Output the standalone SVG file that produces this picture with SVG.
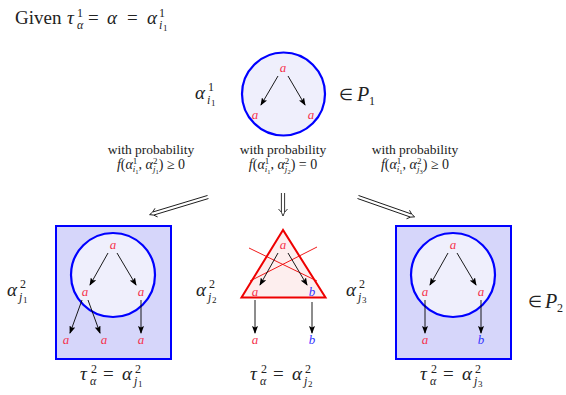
<svg xmlns="http://www.w3.org/2000/svg" width="566" height="395" viewBox="0 0 566 395">
<defs>
<style>
text{font-family:'Liberation Serif',serif;fill:#222;}
.i{font-style:italic;}
.ra{font-style:italic;font-size:13px;fill:#f5334d;text-anchor:middle;}
.bb{font-style:italic;font-size:13px;fill:#3333ff;text-anchor:middle;}
.pr{font-size:13.5px;text-anchor:middle;}
.pf{font-size:14px;text-anchor:middle;}
.ar{stroke:#000;stroke-width:0.9;fill:none;marker-end:url(#ah);}
.box{fill:#d6d6fa;stroke:#0000ff;stroke-width:2;}
.cir{fill:#efeffc;stroke:#0000ff;stroke-width:2.2;}
.dl{stroke:#000;stroke-width:0.8;fill:none;}
</style>
<marker id="ah" viewBox="0 0 8 6" refX="7" refY="3" markerWidth="8" markerHeight="6" markerUnits="userSpaceOnUse" orient="auto">
<path d="M0,0 L8,3 L0,6 L1.5,3 z" fill="#000"/>
</marker>
</defs>

<g id="title">
<text x="15" y="24" font-size="19">Given</text>
<text font-size="19" class="i" x="67" y="24">τ</text>
<text font-size="12" x="77" y="17">1</text>
<text font-size="12" class="i" x="77" y="29">α</text>
<text font-size="19" x="88" y="24">=</text>
<text font-size="19" class="i" x="107" y="24">α</text>
<text font-size="19" x="127" y="24">=</text>
<text font-size="19" class="i" x="147" y="24">α</text>
<text font-size="12" x="159" y="17">1</text>
<text font-size="12" class="i" x="159" y="29">i</text>
<text font-size="9" x="163" y="31">1</text>
</g>

<g id="top-node">
<circle class="cir" cx="283.5" cy="94" r="41.5"/>
<text class="ra" x="283" y="72">a</text>
<text class="ra" x="255" y="119">a</text>
<text class="ra" x="311" y="119">a</text>
<line class="ar" x1="278" y1="76" x2="261" y2="105"/>
<line class="ar" x1="288" y1="76" x2="305" y2="105"/>
<text font-size="19" class="i" x="195" y="99">α</text>
<text font-size="12" x="208" y="91">1</text>
<text font-size="12" class="i" x="207" y="104">i</text>
<text font-size="9" x="211" y="106">1</text>
<text font-size="16" x="339" y="100">∈</text>
<text font-size="20" class="i" x="357" y="101">P</text>
<text font-size="12" x="369" y="105">1</text>
</g>

<g id="labels">
<text class="pr" x="151" y="154">with probability</text>
<text class="pf" x="151" y="169"><tspan class="i">f</tspan>(<tspan class="i">α</tspan><tspan font-size="9" dy="-5">1</tspan><tspan class="i" font-size="9" dx="-4.5" dy="8">i</tspan><tspan font-size="6.5" dy="1.5">1</tspan><tspan dy="-4.5">, </tspan><tspan class="i">α</tspan><tspan font-size="9" dy="-5">2</tspan><tspan class="i" font-size="9" dx="-4.5" dy="8">j</tspan><tspan font-size="6.5" dy="1.5">1</tspan><tspan dy="-4.5">) ≥ 0</tspan></text>
<text class="pr" x="283" y="154">with probability</text>
<text class="pf" x="283" y="169"><tspan class="i">f</tspan>(<tspan class="i">α</tspan><tspan font-size="9" dy="-5">1</tspan><tspan class="i" font-size="9" dx="-4.5" dy="8">i</tspan><tspan font-size="6.5" dy="1.5">1</tspan><tspan dy="-4.5">, </tspan><tspan class="i">α</tspan><tspan font-size="9" dy="-5">2</tspan><tspan class="i" font-size="9" dx="-4.5" dy="8">j</tspan><tspan font-size="6.5" dy="1.5">2</tspan><tspan dy="-4.5">) = 0</tspan></text>
<text class="pr" x="415" y="154">with probability</text>
<text class="pf" x="415" y="169"><tspan class="i">f</tspan>(<tspan class="i">α</tspan><tspan font-size="9" dy="-5">1</tspan><tspan class="i" font-size="9" dx="-4.5" dy="8">i</tspan><tspan font-size="6.5" dy="1.5">1</tspan><tspan dy="-4.5">, </tspan><tspan class="i">α</tspan><tspan font-size="9" dy="-5">2</tspan><tspan class="i" font-size="9" dx="-4.5" dy="8">j</tspan><tspan font-size="6.5" dy="1.5">3</tspan><tspan dy="-4.5">) ≥ 0</tspan></text>
</g>

<g id="connectors">
<g transform="translate(208,197) rotate(163.2)">
<path class="dl" d="M0,-1.6 H57 M0,1.6 H57 M54,-4.5 Q57,-1 61,0 Q57,1 54,4.5"/>
</g>
<g transform="translate(283,193) rotate(90)">
<path class="dl" d="M0,-1.6 H19 M0,1.6 H19 M16,-4.5 Q19,-1 23,0 Q19,1 16,4.5"/>
</g>
<g transform="translate(358,197) rotate(19.3)">
<path class="dl" d="M0,-1.6 H56 M0,1.6 H56 M53,-4.5 Q56,-1 60,0 Q56,1 53,4.5"/>
</g>
</g>

<g id="node-j1">
<rect class="box" x="56" y="226" width="115" height="133"/>
<circle class="cir" cx="113" cy="275" r="42"/>
<text class="ra" x="113" y="249">a</text>
<text class="ra" x="85" y="296">a</text>
<text class="ra" x="141" y="296">a</text>
<text class="ra" x="66" y="344">a</text>
<text class="ra" x="104" y="344">a</text>
<text class="ra" x="141" y="344">a</text>
<line class="ar" x1="108" y1="253" x2="90" y2="285"/>
<line class="ar" x1="117" y1="253" x2="136" y2="285"/>
<line class="ar" x1="82" y1="300" x2="70" y2="333"/>
<line class="ar" x1="88" y1="300" x2="100" y2="333"/>
<line class="ar" x1="141" y1="300" x2="141" y2="333"/>
<text font-size="19" class="i" x="7" y="296">α</text>
<text font-size="12" x="20" y="288">2</text>
<text font-size="12" class="i" x="19" y="301">j</text>
<text font-size="9" x="23" y="303">1</text>
<text font-size="19" class="i" x="80" y="380">τ</text>
<text font-size="12" x="91" y="373">2</text>
<text font-size="12" class="i" x="90" y="385">α</text>
<text font-size="19" x="103" y="380">=</text>
<text font-size="19" class="i" x="122" y="380">α</text>
<text font-size="12" x="135" y="373">2</text>
<text font-size="12" class="i" x="134" y="385">j</text>
<text font-size="9" x="138" y="387">1</text>
</g>

<g id="node-j2">
<path d="M283,230 L241.5,297.5 L325.5,297.5 Z" fill="#fdeeee" stroke="#ee0000" stroke-width="2"/>
<line x1="249" y1="248" x2="317" y2="281" stroke="#ee0000" stroke-width="0.9"/>
<line x1="317" y1="247" x2="250" y2="281" stroke="#ee0000" stroke-width="0.9"/>
<text class="ra" x="283" y="249">a</text>
<text class="ra" x="255" y="296">a</text>
<text class="bb" x="312" y="296">b</text>
<line class="ar" x1="278" y1="253" x2="260" y2="285"/>
<line class="ar" x1="288" y1="253" x2="307" y2="285"/>
<line class="ar" x1="255" y1="300" x2="255" y2="333"/>
<line class="ar" x1="312" y1="302" x2="312" y2="333"/>
<text class="ra" x="255" y="344">a</text>
<text class="bb" x="312" y="344">b</text>
<text font-size="19" class="i" x="196" y="296">α</text>
<text font-size="12" x="209" y="288">2</text>
<text font-size="12" class="i" x="208" y="301">j</text>
<text font-size="9" x="212" y="303">2</text>
<text font-size="19" class="i" x="250" y="380">τ</text>
<text font-size="12" x="261" y="373">2</text>
<text font-size="12" class="i" x="260" y="385">α</text>
<text font-size="19" x="273" y="380">=</text>
<text font-size="19" class="i" x="292" y="380">α</text>
<text font-size="12" x="305" y="373">2</text>
<text font-size="12" class="i" x="304" y="385">j</text>
<text font-size="9" x="308" y="387">2</text>
</g>

<g id="node-j3">
<rect class="box" x="396" y="226" width="115" height="133"/>
<circle class="cir" cx="453" cy="275" r="42"/>
<text class="ra" x="453" y="249">a</text>
<text class="ra" x="425" y="296">a</text>
<text class="ra" x="481" y="296">a</text>
<text class="ra" x="425" y="344">a</text>
<text class="bb" x="481" y="344">b</text>
<line class="ar" x1="448" y1="253" x2="430" y2="285"/>
<line class="ar" x1="457" y1="253" x2="476" y2="285"/>
<line class="ar" x1="425" y1="300" x2="425" y2="333"/>
<line class="ar" x1="481" y1="300" x2="481" y2="333"/>
<text font-size="19" class="i" x="346" y="296">α</text>
<text font-size="12" x="359" y="288">2</text>
<text font-size="12" class="i" x="358" y="301">j</text>
<text font-size="9" x="362" y="303">3</text>
<text font-size="19" class="i" x="420" y="380">τ</text>
<text font-size="12" x="431" y="373">2</text>
<text font-size="12" class="i" x="430" y="385">α</text>
<text font-size="19" x="443" y="380">=</text>
<text font-size="19" class="i" x="462" y="380">α</text>
<text font-size="12" x="475" y="373">2</text>
<text font-size="12" class="i" x="474" y="385">j</text>
<text font-size="9" x="478" y="387">3</text>
<text font-size="16" x="528" y="307">∈</text>
<text font-size="20" class="i" x="545" y="308">P</text>
<text font-size="12" x="557" y="312">2</text>
</g>
</svg>
